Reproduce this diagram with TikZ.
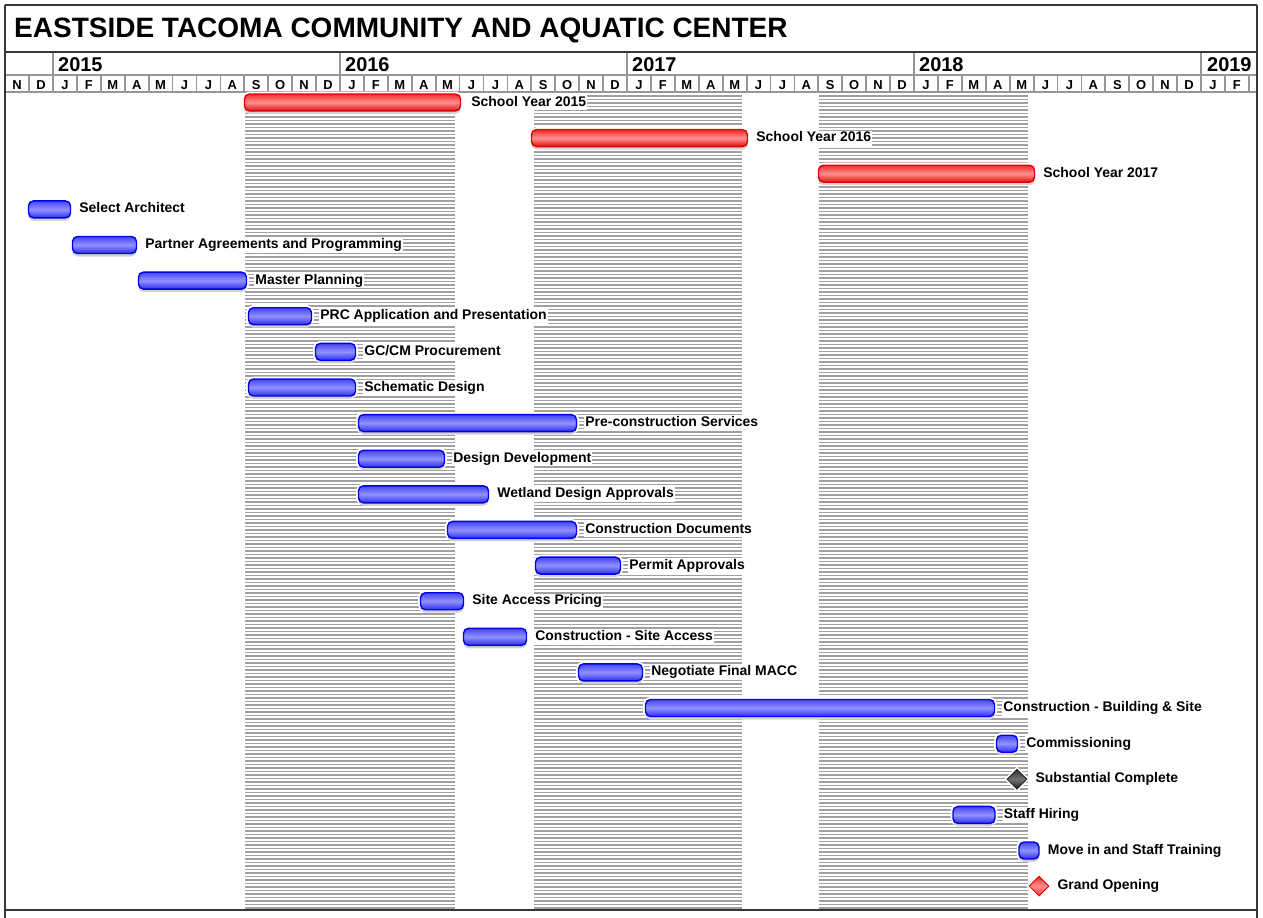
\documentclass[tikz,border=0pt]{standalone}
\usepackage{fontspec}
\setmainfont{Liberation Sans}
\usetikzlibrary{positioning,shapes.geometric,shadows}
\definecolor{frameline}{RGB}{55,55,55}
\definecolor{cellline}{RGB}{150,150,150}
\definecolor{hatchgray}{RGB}{160,160,160}
\definecolor{blueedge}{RGB}{0,0,230}
\definecolor{bluetop}{RGB}{70,70,245}
\definecolor{bluemid}{RGB}{145,145,255}
\definecolor{bluebot}{RGB}{45,45,240}
\definecolor{rededge}{RGB}{225,0,0}
\definecolor{redtop}{RGB}{240,45,45}
\definecolor{redmid}{RGB}{255,145,145}
\definecolor{redbot}{RGB}{228,10,10}
\begin{document}
\begin{tikzpicture}[x=1bp,y=-1bp,
  every node/.style={inner sep=0pt},
  frame/.style={draw=frameline, line width=1.8bp},
  cell/.style={draw=cellline, line width=1.8bp},
  hatch/.style={draw=hatchgray, line width=1.4bp},
  bar/.style={rounded corners=5bp, minimum height=17bp, line width=1.4bp,
    preaction={draw=white, fill=white, line width=5bp},
    drop shadow={shadow xshift=0bp, shadow yshift=-3bp, fill=gray!35, opacity=1}},
  bluebar/.style={bar, draw=blueedge, top color=bluetop, bottom color=bluebot, middle color=bluemid},
  redbar/.style={bar, draw=rededge, top color=redtop, bottom color=redbot, middle color=redmid},
  milestone/.style={diamond, minimum width=20bp, minimum height=20bp, line width=0.8bp,
    preaction={draw=white, fill=white, line width=4bp}},
  darkms/.style={milestone, draw=black!90, top color=black!80, bottom color=black!90, middle color=black!55},
  redms/.style={milestone, draw=rededge, top color=redtop, bottom color=redtop, middle color=redmid},
  lbl/.style={fill=white, inner sep=1bp, text height=10bp, text depth=3bp,
    font=\fontsize{14}{16}\selectfont\bfseries},
  mon/.style={text height=9.3bp, text depth=0pt, font=\fontsize{13}{15}\selectfont\bfseries},
  yr/.style={anchor=west, text height=14.3bp, text depth=0pt, font=\fontsize{20}{24}\selectfont\bfseries},
  title/.style={anchor=west, text height=20bp, text depth=0pt, font=\fontsize{28.1}{32}\selectfont\bfseries}
]
\useasboundingbox (0,0) rectangle (1263,918);
\fill[white] (0,0) rectangle (1263,918);

\foreach \y in {96,99.5,...,908} {
  \draw[hatch] (245,\y) -- (455,\y);
  \draw[hatch] (534,\y) -- (742,\y);
  \draw[hatch] (819,\y) -- (1028,\y);
}

\draw[cell] (5,75) -- (1257,75);
\draw[cell] (5,92) -- (1257,92);
\foreach \m in {1,...,52}
  \draw[cell] ({5.17+23.917*\m},75) -- ({5.17+23.917*\m},92);
\draw[cell] (53,52) -- (53,75);
\draw[cell] (340,52) -- (340,75);
\draw[cell] (627,52) -- (627,75);
\draw[cell] (914,52) -- (914,75);
\draw[cell] (1201,52) -- (1201,75);
\draw[frame] (5,5) -- (1257,5);
\draw[frame] (5,52) -- (1257,52);
\draw[frame] (5,910) -- (1257,910);
\draw[frame] (5,5) -- (5,918);
\draw[frame] (1257,5) -- (1257,918);

\node[title] (head) at (14,27.5) {EASTSIDE TACOMA COMMUNITY AND AQUATIC CENTER};
\node[yr] (y2015) at (58,64.7) {2015};
\node[yr] (y2016) at (345,64.7) {2016};
\node[yr] (y2017) at (632,64.7) {2017};
\node[yr] (y2018) at (919,64.7) {2018};
\node[yr] (y2019) at (1207,64.7) {2019};
\foreach \t [count=\i from 0] in {N,D,J,F,M,A,M,J,J,A,S,O,N,D,J,F,M,A,M,J,J,A,S,O,N,D,J,F,M,A,M,J,J,A,S,O,N,D,J,F,M,A,M,J,J,A,S,O,N,D,J,F}
  \node[mon] (m\i) at ({5.17+23.917*(\i+0.5)},84.5) {\t};

\node[redbar, minimum width=216bp] (sy15) at (352.5,102.5) {};
\node[lbl, right=9bp of sy15] (sy15l) {School Year 2015};
\node[redbar, minimum width=216bp] (sy16) at (639.5,138.1) {};
\node[lbl, right=7bp of sy16] (sy16l) {School Year 2016};
\node[redbar, minimum width=216bp] (sy17) at (926.5,173.7) {};
\node[lbl, right=7bp of sy17] (sy17l) {School Year 2017};

\node[bluebar, minimum width=42bp] (arch) at (49.5,209.4) {};
\node[lbl, right=7bp of arch] (archl) {Select Architect};
\node[bluebar, minimum width=64bp] (part) at (104.5,245.0) {};
\node[lbl, right=7bp of part] (partl) {Partner Agreements and Programming};
\node[bluebar, minimum width=108bp] (plan) at (192.5,280.6) {};
\node[lbl, right=7bp of plan] (planl) {Master Planning};
\node[bluebar, minimum width=63bp] (prc) at (280,316.2) {};
\node[lbl, right=7bp of prc] (prcl) {PRC Application and Presentation};
\node[bluebar, minimum width=40bp] (gccm) at (335.5,351.8) {};
\node[lbl, right=7bp of gccm] (gccml) {GC/CM Procurement};
\node[bluebar, minimum width=107bp] (schem) at (302,387.5) {};
\node[lbl, right=7bp of schem] (scheml) {Schematic Design};
\node[bluebar, minimum width=218bp] (precon) at (467.5,423.1) {};
\node[lbl, right=7bp of precon] (preconl) {Pre-construction Services};
\node[bluebar, minimum width=86bp] (dd) at (401.5,458.7) {};
\node[lbl, right=7bp of dd] (ddl) {Design Development};
\node[bluebar, minimum width=130bp] (wet) at (423.5,494.3) {};
\node[lbl, right=7bp of wet] (wetl) {Wetland Design Approvals};
\node[bluebar, minimum width=129bp] (cd) at (512,529.9) {};
\node[lbl, right=7bp of cd] (cdl) {Construction Documents};
\node[bluebar, minimum width=85bp] (perm) at (578,565.6) {};
\node[lbl, right=7bp of perm] (perml) {Permit Approvals};
\node[bluebar, minimum width=43bp] (sap) at (442,601.2) {};
\node[lbl, right=7bp of sap] (sapl) {Site Access Pricing};
\node[bluebar, minimum width=63bp] (csa) at (495,636.8) {};
\node[lbl, right=7bp of csa] (csal) {Construction - Site Access};
\node[bluebar, minimum width=64bp] (macc) at (610.5,672.4) {};
\node[lbl, right=7bp of macc] (maccl) {Negotiate Final MACC};
\node[bluebar, minimum width=349bp] (cbs) at (820,708.0) {};
\node[lbl, right=7bp of cbs] (cbsl) {Construction - Building \& Site};
\node[bluebar, minimum width=21bp] (comm) at (1007,743.7) {};
\node[lbl, right=7bp of comm] (comml) {Commissioning};
\node[darkms] (subst) at (1017,779.3) {};
\node[lbl, right=7bp of subst] (substl) {Substantial Complete};
\node[bluebar, minimum width=42bp] (hire) at (974,814.9) {};
\node[lbl, right=7bp of hire] (hirel) {Staff Hiring};
\node[bluebar, minimum width=20bp] (move) at (1029,850.5) {};
\node[lbl, right=7bp of move] (movel) {Move in and Staff Training};
\node[redms] (open) at (1039,886.1) {};
\node[lbl, right=7bp of open] (openl) {Grand Opening};
\end{tikzpicture}
\end{document}
